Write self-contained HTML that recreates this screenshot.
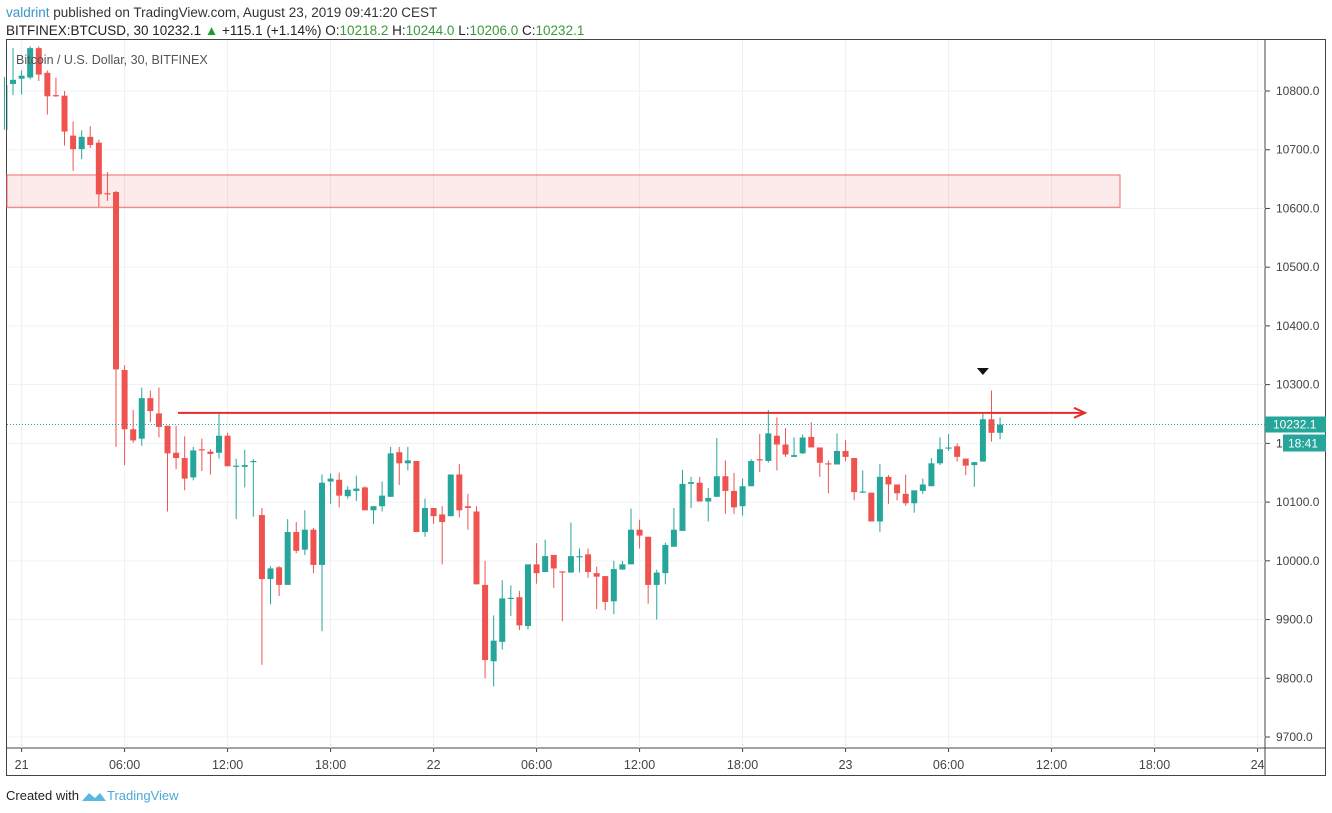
<!DOCTYPE html>
<html><head><meta charset="utf-8"><style>
body{margin:0;background:#fff;width:1332px;height:813px;overflow:hidden;font-family:"Liberation Sans",sans-serif}
svg{position:absolute;left:0;top:0}
</style></head><body>
<svg id="c" width="1332" height="813" xmlns="http://www.w3.org/2000/svg">
<text x="6" y="17" font-size="13.5" fill="#333"><tspan fill="#3b95c6">valdrint</tspan> published on TradingView.com, August 23, 2019 09:41:20 CEST</text>
<text x="6" y="35" font-size="13.5" fill="#222">BITFINEX:BTCUSD, 30  10232.1 <tspan fill="#1aa12a">▲</tspan> +115.1 (+1.14%) O:<tspan fill="#3a9a3a">10218.2</tspan> H:<tspan fill="#3a9a3a">10244.0</tspan> L:<tspan fill="#3a9a3a">10206.0</tspan> C:<tspan fill="#3a9a3a">10232.1</tspan></text>
<rect x="6.5" y="39.5" width="1319" height="736" fill="none" stroke="#444"/>
<line x1="1265" y1="40" x2="1265" y2="776" stroke="#444"/>
<line x1="6" y1="748" x2="1326" y2="748" stroke="#444"/>
<g id="grid"></g>
<g id="zone"></g>
<g id="candles"></g>
<g id="overlay"></g>
<text x="16" y="64" font-size="12.5" fill="#555">Bitcoin / U.S. Dollar, 30, BITFINEX</text>
<text x="6" y="800" font-size="13" fill="#222">Created with</text>
<path d="M82 801 l7-8 l6 5 l5-5 l6 8 z" fill="#5bb8de"/>
<text x="107" y="800" font-size="13" fill="#4aa9d4">TradingView</text>
</svg>
<script>
const priceTicks=[10800,10700,10600,10500,10400,10300,10200,10100,10000,9900,9800,9700];
const timeLabels=["21","06:00","12:00","18:00","22","06:00","12:00","18:00","23","06:00","12:00","18:00","24"];
const timeLabelSlots=[0,12,24,36,48,60,72,84,96,108,120,132,144];
const firstSlot=-2;
const opens=[10734,10812,10821,10823,10873,10831,10793,10792,10724,10701,10722,10712,10626,10628,10325,10224,10208,10277,10251,10230,10184,10175,10142,10190,10186,10184,10213,10160,10160,10170,10078,9969,9989,9959,10049,10019,10053,9993,10135,10138,10110,10119,10125,10086,10093,10109,10185,10166,10170,10049,10090,10079,10076,10147,10093,10084,9959,9829,9862,9935,9938,9889,9994,9981,10010,9982,9980,10006,10011,9979,9974,9931,9985,9994,10053,10041,9959,9979,10024,10051,10131,10133,10101,10109,10144,10119,10093,10127,10173,10170,10213,10198,10177,10183,10211,10193,10166,10164,10187,10175,10116,10116,10067,10143,10130,10114,10098,10119,10127,10166,10191,10195,10174,10163,10169,10241,10218];
const highs=[10824,10873,10835,10876,10876,10835,10823,10800,10748,10733,10740,10717,10662,10630,10333,10257,10295,10290,10295,10230,10230,10212,10194,10208,10190,10253,10218,10174,10189,10173,10090,9991,9991,10071,10066,10086,10056,10147,10149,10150,10127,10145,10127,10093,10135,10194,10194,10194,10170,10106,10090,10093,10147,10165,10114,10093,10000,9907,9967,9958,9949,9994,10030,10036,10010,9982,10065,10021,10021,9990,9974,10000,10000,10089,10070,10041,9985,10031,10090,10155,10143,10143,10124,10209,10171,10150,10140,10173,10216,10257,10244,10226,10210,10215,10236,10193,10171,10217,10206,10175,10154,10116,10165,10146,10130,10147,10120,10140,10175,10210,10216,10200,10174,10168,10251,10290,10244];
const lows=[10734,10793,10794,10820,10817,10760,10790,10707,10664,10684,10703,10603,10613,10194,10163,10201,10196,10236,10210,10084,10156,10120,10137,10153,10147,10174,10161,10071,10125,10075,9823,9926,9940,9959,10013,10010,9979,9880,10097,10091,10106,10102,10086,10063,10084,10109,10129,10154,10049,10041,10063,9994,10076,10074,10053,9960,9800,9786,9849,9906,9882,9883,9961,9981,9954,9897,9980,9980,9971,9918,9916,9909,9985,9994,10021,9927,9900,9960,10024,10051,10090,10101,10067,10109,10080,10080,10077,10127,10151,10167,10154,10177,10177,10182,10193,10143,10115,10164,10169,10103,10116,10067,10049,10097,10103,10094,10082,10114,10127,10163,10187,10169,10146,10126,10169,10203,10207];
const closes=[10810,10819,10826,10873,10828,10791,10791,10731,10701,10722,10708,10624,10624,10326,10224,10205,10277,10255,10228,10183,10175,10140,10188,10188,10182,10213,10161,10162,10163,10170,9969,9987,9959,10049,10017,10053,9993,10133,10140,10111,10121,10123,10086,10093,10111,10183,10166,10171,10049,10090,10076,10066,10147,10086,10090,9960,9831,9864,9936,9937,9890,9994,9979,10008,9987,9980,10008,10008,9981,9973,9930,9986,9994,10053,10043,9959,9980,10027,10053,10131,10134,10101,10107,10144,10119,10091,10127,10170,10171,10217,10198,10181,10180,10210,10193,10167,10164,10187,10177,10117,10118,10067,10143,10130,10115,10098,10120,10130,10166,10190,10193,10177,10162,10168,10241,10218,10232];
const zoneTop=10657, zoneBottom=10602, resistance=10252, lastPrice=10232.1;
const ns="http://www.w3.org/2000/svg";
const yOf=p=>91+(10800-p)*0.58727;
const xOf=s=>21.6+s*8.583;
function mk(tag,attrs,parent){const e=document.createElementNS(ns,tag);for(const k in attrs)e.setAttribute(k,attrs[k]);document.getElementById(parent).appendChild(e);return e;}
priceTicks.forEach(p=>{
  const y=yOf(p);
  const g=mk('line',{x1:7,x2:1265,y1:y,y2:y,stroke:'#edf1f6'},'grid');
  
  
  mk('line',{x1:1265,x2:1270,y1:y,y2:y,stroke:'#444'},'grid');
  const t=mk('text',{x:1276,y:y+4,'font-size':12,fill:'#444'},'grid');t.textContent=p.toFixed(1);
  
  
});
timeLabels.forEach((l,i)=>{
  const x=xOf(timeLabelSlots[i]);
  const g=mk('line',{x1:x,x2:x,y1:40,y2:748,stroke:'#edf1f6'},'grid');
  
  
  mk('line',{x1:x,x2:x,y1:748,y2:752,stroke:'#444'},'grid');
  const t=mk('text',{x:x,y:769,'font-size':12.5,fill:'#444','text-anchor':'middle'},'grid');t.textContent=l;
  
  
});
const z=mk('rect',{x:7,y:yOf(zoneTop),width:1113,height:yOf(zoneBottom)-yOf(zoneTop),fill:'rgba(239,83,80,0.12)',stroke:'#ef6b68','stroke-width':1},'zone');


opens.forEach((o,i)=>{
  const c=closes[i],h=highs[i],l=lows[i],x=xOf(firstSlot+i);
  if(x<4)return;
  const col=c>=o?'#26a69a':'#ef5350';
  const w=mk('line',{x1:x,x2:x,y1:yOf(h),y2:yOf(l),stroke:col,'stroke-width':1},'candles');
  
  
  const top=yOf(Math.max(o,c)),bot=yOf(Math.min(o,c));
  const xl=Math.max(x-3,7);
  const b=mk('rect',{x:xl,y:top,width:x+3-xl,height:Math.max(bot-top,1.2),fill:col},'candles');
  
  
});
const ry=yOf(resistance);
const rl=mk('line',{x1:178,x2:1084,y1:ry,y2:ry,stroke:'#e62d2d','stroke-width':2},'overlay');


mk('path',{d:`M1074 ${ry-5} L1085 ${ry} L1074 ${ry+5}`,fill:'none',stroke:'#e62d2d','stroke-width':2},'overlay');
const ly=yOf(lastPrice);
const dl=mk('line',{x1:7,x2:1265,y1:ly,y2:ly,stroke:'#26a69a','stroke-dasharray':'1 2'},'overlay');


const tag=mk('rect',{x:1265,y:ly-8,width:61,height:16,fill:'#26a69a'},'overlay');


const tt=mk('text',{x:1273,y:ly+4,'font-size':12,fill:'#fff'},'overlay');tt.textContent='10232.1';
mk('text',{x:1276,y:ly+23,'font-size':12,fill:'#444'},'overlay').textContent='101';
const tag2=mk('rect',{x:1283,y:ly+10,width:43,height:17,fill:'#26a69a'},'overlay');


mk('text',{x:1288,y:ly+23,'font-size':12,fill:'#fff'},'overlay').textContent='18:41';
const cx=xOf(firstSlot+114);
const mark=mk('path',{d:`M${cx-6} 368 L${cx+6} 368 L${cx} 375 Z`,fill:'#111'},'overlay');


</script>
</body></html>
